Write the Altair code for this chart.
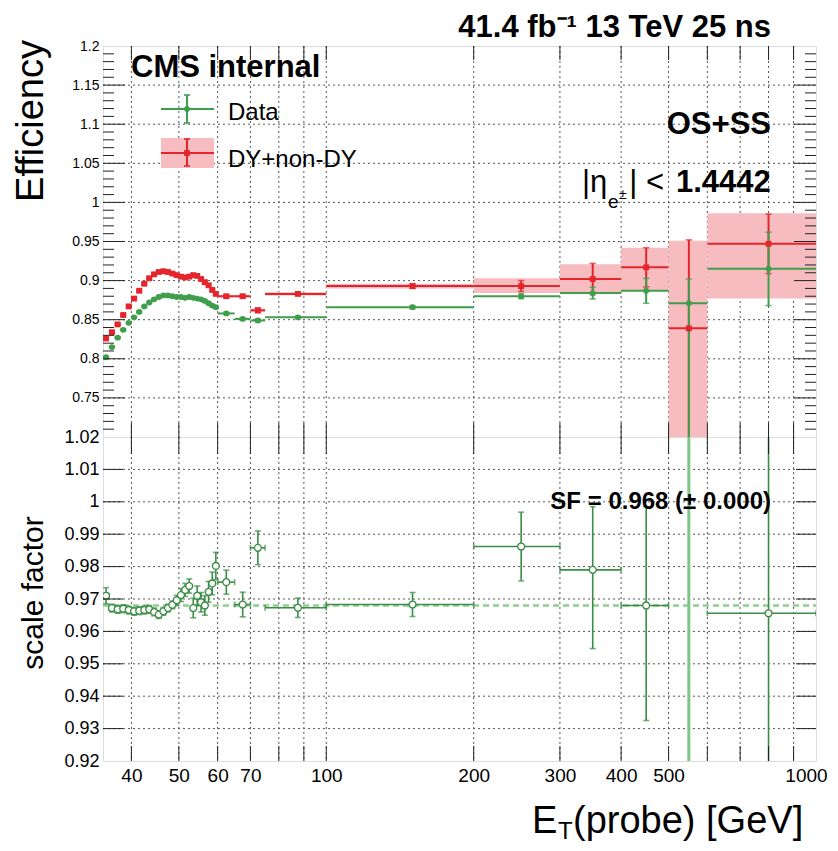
import altair as alt
import pandas as pd

# ---------------- data ----------------
EDGES = [35, 36, 37, 38, 39, 40, 41, 42, 43, 44, 45, 46, 47, 48, 49, 50, 51, 52,
         53, 54, 55, 56, 57, 58, 59, 60, 65, 70, 75, 100, 200, 300, 400, 500, 600, 1000]

RED_EFF = [0.826, 0.834, 0.844, 0.856, 0.867, 0.877, 0.887, 0.896, 0.903, 0.908,
           0.911, 0.912, 0.911, 0.909, 0.907, 0.905, 0.904, 0.905, 0.907, 0.906,
           0.902, 0.898, 0.894, 0.888, 0.883, 0.880, 0.880, 0.862, 0.883, 0.893,
           0.893, 0.902, 0.917, 0.839, 0.947]
RED_ERR_LO = [0.0015, 0.0015, 0.0015, 0.0015, 0.0015, 0.0015, 0.0015, 0.0015, 0.0015, 0.0015,
              0.0015, 0.0015, 0.0015, 0.0015, 0.0015, 0.0015, 0.0015, 0.0015, 0.0015, 0.0015,
              0.0015, 0.0015, 0.0015, 0.0015, 0.0015, 0.002, 0.002, 0.003, 0.002, 0.003,
              0.007, 0.020, 0.025, 0.150, 0.038]
RED_ERR_HI = [0.0015, 0.0015, 0.0015, 0.0015, 0.0015, 0.0015, 0.0015, 0.0015, 0.0015, 0.0015,
              0.0015, 0.0015, 0.0015, 0.0015, 0.0015, 0.0015, 0.0015, 0.0015, 0.0015, 0.0015,
              0.0015, 0.0015, 0.0015, 0.0015, 0.0015, 0.002, 0.002, 0.003, 0.002, 0.003,
              0.007, 0.020, 0.025, 0.113, 0.038]
BAND_LO = [0.0015, 0.0015, 0.0015, 0.0015, 0.0015, 0.0015, 0.0015, 0.0015, 0.0015, 0.0015,
           0.0015, 0.0015, 0.0015, 0.0015, 0.0015, 0.0015, 0.0015, 0.0015, 0.0015, 0.0015,
           0.0015, 0.0015, 0.0015, 0.0015, 0.0015, 0.0015, 0.0015, 0.002, 0.002, 0.003,
           0.009, 0.017, 0.030, 0.200, 0.070]
BAND_HI = [0.0015, 0.0015, 0.0015, 0.0015, 0.0015, 0.0015, 0.0015, 0.0015, 0.0015, 0.0015,
           0.0015, 0.0015, 0.0015, 0.0015, 0.0015, 0.0015, 0.0015, 0.0015, 0.0015, 0.0015,
           0.0015, 0.0015, 0.0015, 0.0015, 0.0015, 0.0015, 0.0015, 0.002, 0.002, 0.003,
           0.010, 0.019, 0.025, 0.112, 0.039]

GREEN_EFF = [0.802, 0.815, 0.827, 0.837, 0.846, 0.853, 0.860, 0.867, 0.872, 0.876,
             0.879, 0.881, 0.881, 0.880, 0.879, 0.879, 0.878, 0.879, 0.878, 0.877,
             0.876, 0.874, 0.871, 0.868, 0.866, 0.858, 0.851, 0.849, 0.853, 0.866,
             0.880, 0.884, 0.887, 0.871, 0.915]
GREEN_ERR_LO = [0.0012, 0.0012, 0.0012, 0.0012, 0.0012, 0.0012, 0.0012, 0.0012, 0.0012, 0.0012,
                0.0012, 0.0012, 0.0012, 0.0012, 0.0012, 0.0012, 0.0012, 0.0012, 0.0012, 0.0012,
                0.0012, 0.0012, 0.0012, 0.0012, 0.0012, 0.0015, 0.0015, 0.002, 0.0015, 0.002,
                0.003, 0.0075, 0.016, 0.200, 0.047]
GREEN_ERR_HI = [0.0012, 0.0012, 0.0012, 0.0012, 0.0012, 0.0012, 0.0012, 0.0012, 0.0012, 0.0012,
                0.0012, 0.0012, 0.0012, 0.0012, 0.0012, 0.0012, 0.0012, 0.0012, 0.0012, 0.0012,
                0.0012, 0.0012, 0.0012, 0.0012, 0.0012, 0.0015, 0.0015, 0.002, 0.0015, 0.002,
                0.003, 0.0075, 0.016, 0.031, 0.047]

SF = [0.9710, 0.9672, 0.9668, 0.9670, 0.9666, 0.9662, 0.9664, 0.9666, 0.9668, 0.9660,
      0.9652, 0.9662, 0.9672, 0.9682, 0.9696, 0.9712, 0.9728, 0.9740, 0.9672, 0.9710,
      0.9690, 0.9680, 0.9722, 0.9748, 0.9802, 0.9752, 0.9683, 0.9858, 0.9673, 0.9683,
      0.9862, 0.9790, 0.9680, 1.0390, 0.9656]
SF_ERR_LO = [0.0025, 0.0012, 0.0012, 0.0012, 0.0012, 0.0012, 0.0012, 0.0012, 0.0012, 0.0012,
             0.0012, 0.0012, 0.0012, 0.0012, 0.0015, 0.0020, 0.0020, 0.0022, 0.0030, 0.0030,
             0.0030, 0.0030, 0.0032, 0.0035, 0.0042, 0.0037, 0.0038, 0.0052, 0.0030, 0.0037,
             0.0106, 0.0243, 0.0355, 0.2000, 0.0550]
SF_ERR_HI = [0.0025, 0.0012, 0.0012, 0.0012, 0.0012, 0.0012, 0.0012, 0.0012, 0.0012, 0.0012,
             0.0012, 0.0012, 0.0012, 0.0012, 0.0015, 0.0020, 0.0020, 0.0022, 0.0030, 0.0030,
             0.0030, 0.0030, 0.0032, 0.0035, 0.0042, 0.0037, 0.0038, 0.0052, 0.0030, 0.0037,
             0.0106, 0.0195, 0.0305, 0.2000, 0.0550]
SF_FIT = 0.968

X_GRID = [40, 50, 60, 70, 80, 90, 100, 200, 300, 400, 500, 600, 700, 800, 900, 1000]
X_TICKS = [40, 50, 60, 70, 80, 90, 100, 200, 300, 400, 500, 600, 700, 800, 900]
TOP_Y_VALUES = [0.7, 0.75, 0.8, 0.85, 0.9, 0.95, 1.0, 1.05, 1.1, 1.15, 1.2]
TOP_Y_MAJOR = [0.75, 0.8, 0.85, 0.9, 0.95, 1.0, 1.05, 1.1, 1.15]
TOP_Y_MINOR = [round(0.70 + 0.01 * i, 2) for i in range(1, 50) if i % 5]
BOT_Y_VALUES = [0.92, 0.93, 0.94, 0.95, 0.96, 0.97, 0.98, 0.99, 1.0, 1.01, 1.02]
BOT_Y_MAJOR = [0.93, 0.94, 0.95, 0.96, 0.97, 0.98, 0.99, 1.0, 1.01]

# ---------------- style ----------------
RED = "#e4262c"
GREEN = "#3f9e4b"
GREEN_SF = "#3a8d45"
GREEN_LIGHT = "#7fc583"
SF_LINE = "#8fcf8f"
PINK = "#f6bcc0"
FRAME = "#222222"
GRID = "#555555"
FONT = "Liberation Sans"
W = 713
H_TOP = 391
H_BOT = 324

lo = EDGES[:-1]
hi = EDGES[1:]
top_df = pd.DataFrame({
    "lo": lo, "hi": hi, "x": [(a + b) / 2 for a, b in zip(lo, hi)],
    "red": RED_EFF, "green": GREEN_EFF, "sf": SF,
})
top_df["red_lo"] = top_df["red"] - pd.Series(RED_ERR_LO)
top_df["red_hi"] = top_df["red"] + pd.Series(RED_ERR_HI)
top_df["band_lo"] = top_df["red"] - pd.Series(BAND_LO)
top_df["band_hi"] = top_df["red"] + pd.Series(BAND_HI)
top_df["green_lo"] = top_df["green"] - pd.Series(GREEN_ERR_LO)
top_df["green_hi"] = top_df["green"] + pd.Series(GREEN_ERR_HI)
top_df["sf_lo"] = top_df["sf"] - pd.Series(SF_ERR_LO)
top_df["sf_hi"] = top_df["sf"] + pd.Series(SF_ERR_HI)

XS = alt.Scale(type="log", domain=[35, 1000], nice=False)
YT = alt.Scale(domain=[0.7, 1.2], nice=False, zero=False)
YB = alt.Scale(domain=[0.92, 1.02], nice=False, zero=False)

ax_kw = dict(grid=False, ticks=False, domain=False, title=None)

X_AXIS_TOP = alt.Axis(values=X_GRID, labels=False, **ax_kw)
Y_AXIS_TOP = alt.Axis(values=TOP_Y_VALUES, labelFontSize=14, labelPadding=4,
                      labelFont=FONT, labelColor="black",
                      labelExpr="datum.value < 0.72 ? '' : format(datum.value, '.2~f')",
                      **ax_kw)
X_AXIS_BOT = alt.Axis(values=X_GRID, labelFontSize=19, labelPadding=5, labelFont=FONT,
                      labelColor="black", labelFlush=False, labelOverlap=False,
                      labelOffset={"condition": {"test": "datum.value == 1000", "value": -10}, "value": 0},
                      labelExpr="indexof([40,50,60,70,100,200,300,400,500,1000], datum.value) >= 0 ? format(datum.value, 'd') : ''",
                      **ax_kw)
Y_AXIS_BOT = alt.Axis(values=BOT_Y_VALUES, labelFontSize=18, labelPadding=4,
                      labelFont=FONT, labelColor="black",
                      labelExpr="format(datum.value, '.2~f')", **ax_kw)


def XT(field):
    return alt.X(field, type="quantitative", scale=XS, axis=X_AXIS_TOP)


def XB(field):
    return alt.X(field, type="quantitative", scale=XS, axis=X_AXIS_BOT)


def YTop(field):
    return alt.Y(field, type="quantitative", scale=YT, axis=Y_AXIS_TOP)


def YBot(field):
    return alt.Y(field, type="quantitative", scale=YB, axis=Y_AXIS_BOT)


def one():
    return pd.DataFrame({"k": [0]})


def txt(s, x, y, size, weight="normal", align="left", angle=0, baseline="alphabetic"):
    return alt.Chart(pd.DataFrame({"s": [s]})).mark_text(
        align=align, baseline=baseline, fontSize=size, fontWeight=weight,
        angle=angle, font=FONT, color="black"
    ).encode(text="s:N", x=alt.value(x), y=alt.value(y))


def vrule(x, y, y2, color, w=2):
    return alt.Chart(one()).mark_rule(color=color, strokeWidth=w).encode(
        x=alt.value(x), y=alt.value(y), y2=alt.value(y2))


def hrule(x, x2, y, color, w=2):
    return alt.Chart(one()).mark_rule(color=color, strokeWidth=w).encode(
        x=alt.value(x), x2=alt.value(x2), y=alt.value(y))


HCAP = "M-1,0L1,0"
VCAP = "M0,-1L0,1"

base = alt.Chart(top_df)
xg_df = pd.DataFrame({"t": X_GRID[:-1]})

# ---------------- top panel ----------------
top_grid_x = alt.Chart(xg_df).mark_rule(color=GRID, strokeWidth=1, strokeDash=[2, 3]).encode(
    x=XT("t"), y=alt.value(0), y2=alt.value(H_TOP))
top_grid_y = alt.Chart(pd.DataFrame({"t": TOP_Y_MAJOR})).mark_rule(
    color=GRID, strokeWidth=1, strokeDash=[2, 3]).encode(
    y=YTop("t"), x=alt.value(0), x2=alt.value(W))

band = base.mark_rect(color=PINK, clip=True).encode(
    x=XT("lo"), x2="hi", y=YTop("band_lo"), y2="band_hi")

red_h = base.mark_rule(color=RED, strokeWidth=2, clip=True).encode(x=XT("lo"), x2="hi", y=YTop("red"))
red_v = base.mark_rule(color=RED, strokeWidth=2, clip=True).encode(x=XT("x"), y=YTop("red_lo"), y2="red_hi")
red_c1 = base.mark_point(shape=HCAP, size=40, color=RED, strokeWidth=1.6, clip=True).encode(x=XT("x"), y=YTop("red_lo"))
red_c2 = base.mark_point(shape=HCAP, size=40, color=RED, strokeWidth=1.6, clip=True).encode(x=XT("x"), y=YTop("red_hi"))

green_h = base.mark_rule(color=GREEN, strokeWidth=2, clip=True).encode(x=XT("lo"), x2="hi", y=YTop("green"))
green_v = base.mark_rule(color=GREEN, strokeWidth=2, clip=True).encode(x=XT("x"), y=YTop("green_lo"), y2="green_hi")
green_c1 = base.mark_point(shape=HCAP, size=40, color=GREEN, strokeWidth=1.6, clip=True).encode(x=XT("x"), y=YTop("green_lo"))
green_c2 = base.mark_point(shape=HCAP, size=40, color=GREEN, strokeWidth=1.6, clip=True).encode(x=XT("x"), y=YTop("green_hi"))

red_m = base.mark_square(size=34, color=RED, opacity=1, clip=True).encode(x=XT("x"), y=YTop("red"))
green_m = base.mark_circle(size=34, color=GREEN, opacity=1, clip=True).encode(x=XT("x"), y=YTop("green"))

xt_df = pd.DataFrame({"t": X_TICKS})
top_xt_b = alt.Chart(xt_df).mark_rule(color=FRAME).encode(x=XT("t"), y=alt.value(H_TOP - 14), y2=alt.value(H_TOP))
top_xt_t = alt.Chart(xt_df).mark_rule(color=FRAME).encode(x=XT("t"), y=alt.value(0), y2=alt.value(14))
tmaj = pd.DataFrame({"t": TOP_Y_MAJOR})
tmin = pd.DataFrame({"t": TOP_Y_MINOR})
top_yt = [
    alt.Chart(tmaj).mark_rule(color=FRAME).encode(y=YTop("t"), x=alt.value(0), x2=alt.value(22)),
    alt.Chart(tmaj).mark_rule(color=FRAME).encode(y=YTop("t"), x=alt.value(W - 22), x2=alt.value(W)),
    alt.Chart(tmin).mark_rule(color=FRAME).encode(y=YTop("t"), x=alt.value(0), x2=alt.value(11)),
    alt.Chart(tmin).mark_rule(color=FRAME).encode(y=YTop("t"), x=alt.value(W - 11), x2=alt.value(W)),
]

legend = [
    # Data
    hrule(58, 111, 63, GREEN),
    vrule(84, 49, 77, GREEN),
    hrule(81, 87, 49, GREEN, 1.6),
    hrule(81, 87, 77, GREEN, 1.6),
    alt.Chart(one()).mark_circle(size=34, color=GREEN, opacity=1).encode(x=alt.value(84), y=alt.value(63)),
    # DY+non-DY
    alt.Chart(one()).mark_rect(color=PINK).encode(x=alt.value(58), x2=alt.value(111), y=alt.value(92), y2=alt.value(122)),
    hrule(58, 111, 107, RED),
    vrule(84, 93, 120, RED),
    hrule(81, 87, 93, RED, 1.6),
    hrule(81, 87, 120, RED, 1.6),
    alt.Chart(one()).mark_square(size=34, color=RED, opacity=1).encode(x=alt.value(84), y=alt.value(107)),
]

top_texts = [
    txt("41.4 fb\u207b\u00b9 13 TeV 25 ns", 668, -9, 31, "bold", "right"),
    txt("CMS internal", 28, 31, 31, "bold"),
    txt("Data", 125, 74, 24),
    txt("DY+non-DY", 125, 121, 24),
    txt("OS+SS", 668, 88, 31, "bold", "right"),
    txt("1.4442", 573, 146, 31, "bold"),
    txt("| <", 561, 146, 31, "normal", "right"),
    txt("|\u03b7", 479, 146, 31),
    txt("e", 505, 162, 19),
    txt("\u00b1", 516, 153, 14),
    txt("Efficiency", -71, -6, 38, "normal", "right", 270, "middle"),
]

top = alt.layer(
    top_grid_x, top_grid_y, band, red_h, red_v, red_c1, red_c2, green_h, green_v, green_c1, green_c2,
    red_m, green_m, top_xt_b, top_xt_t, *top_yt, *legend, *top_texts
).properties(width=W, height=H_TOP)

# ---------------- bottom panel ----------------
bot_grid_x = alt.Chart(xg_df).mark_rule(color=GRID, strokeWidth=1, strokeDash=[2, 3]).encode(
    x=XB("t"), y=alt.value(0), y2=alt.value(H_BOT))
bot_grid_y = alt.Chart(pd.DataFrame({"t": BOT_Y_MAJOR})).mark_rule(
    color=GRID, strokeWidth=1, strokeDash=[2, 3]).encode(
    y=YBot("t"), x=alt.value(0), x2=alt.value(W))

fit_df = pd.DataFrame({"x0": [35], "x1": [1000], "y": [SF_FIT]})
fit = alt.Chart(fit_df).mark_rule(color=SF_LINE, strokeWidth=2.5, strokeDash=[6, 4]).encode(
    x=XB("x0"), x2="x1", y=YBot("y"))

in_range = "datum.sf < 1.02"
out_range = "datum.sf >= 1.02"
sf_h = base.transform_filter(in_range).mark_rule(color=GREEN_SF, strokeWidth=1.6, clip=True).encode(x=XB("lo"), x2="hi", y=YBot("sf"))
sf_v = base.transform_filter(in_range).mark_rule(color=GREEN_SF, strokeWidth=1.6, clip=True).encode(x=XB("x"), y=YBot("sf_lo"), y2="sf_hi")
sf_v_out = base.transform_filter(out_range).mark_rule(color=GREEN_LIGHT, strokeWidth=3, clip=True).encode(x=XB("x"), y=YBot("sf_lo"), y2="sf_hi")
sf_c1 = base.mark_point(shape=HCAP, size=36, color=GREEN_SF, strokeWidth=1.6, clip=True).encode(x=XB("x"), y=YBot("sf_lo"))
sf_c2 = base.mark_point(shape=HCAP, size=36, color=GREEN_SF, strokeWidth=1.6, clip=True).encode(x=XB("x"), y=YBot("sf_hi"))
sf_c3 = base.mark_point(shape=VCAP, size=36, color=GREEN_SF, strokeWidth=1.6, clip=True).encode(x=XB("lo"), y=YBot("sf"))
sf_c4 = base.mark_point(shape=VCAP, size=36, color=GREEN_SF, strokeWidth=1.6, clip=True).encode(x=XB("hi"), y=YBot("sf"))
sf_m = base.mark_point(shape="circle", size=48, filled=True, fill="white", stroke=GREEN_SF,
                       strokeWidth=1.3, opacity=1, clip=True).encode(x=XB("x"), y=YBot("sf"))

bot_xt_t = alt.Chart(xt_df).mark_rule(color=FRAME).encode(x=XB("t"), y=alt.value(0), y2=alt.value(17))
bot_xt_b = alt.Chart(xt_df).mark_rule(color=FRAME).encode(x=XB("t"), y=alt.value(H_BOT - 15), y2=alt.value(H_BOT))
bmaj = pd.DataFrame({"t": BOT_Y_MAJOR})
bot_yt = [
    alt.Chart(bmaj).mark_rule(color=FRAME).encode(y=YBot("t"), x=alt.value(0), x2=alt.value(20)),
    alt.Chart(bmaj).mark_rule(color=FRAME).encode(y=YBot("t"), x=alt.value(W - 20), x2=alt.value(W)),
]

bot_texts = [
    txt("SF = 0.968 (\u00b1 0.000)", 668, 72, 24, "bold", "right"),
    txt("scale factor", -69, 156, 30, "normal", "center", 270, "middle"),
    txt("E", 429, 396, 38),
    txt("T", 455, 402, 24),
    txt("(probe) [GeV]", 470, 396, 38),
]

bottom = alt.layer(
    bot_grid_x, bot_grid_y, fit, sf_h, sf_v, sf_v_out, sf_c1, sf_c2, sf_c3, sf_c4, sf_m,
    bot_xt_t, bot_xt_b, *bot_yt, *bot_texts
).properties(width=W, height=H_BOT)

chart = alt.vconcat(top, bottom, spacing=0, bounds="flush").properties(
    padding={"left": 4, "top": 3, "right": 0, "bottom": 0}
).configure_view(stroke=FRAME, strokeWidth=1).configure(font=FONT)

chart.save("out.html", embed_options={"renderer": "svg", "actions": False})
